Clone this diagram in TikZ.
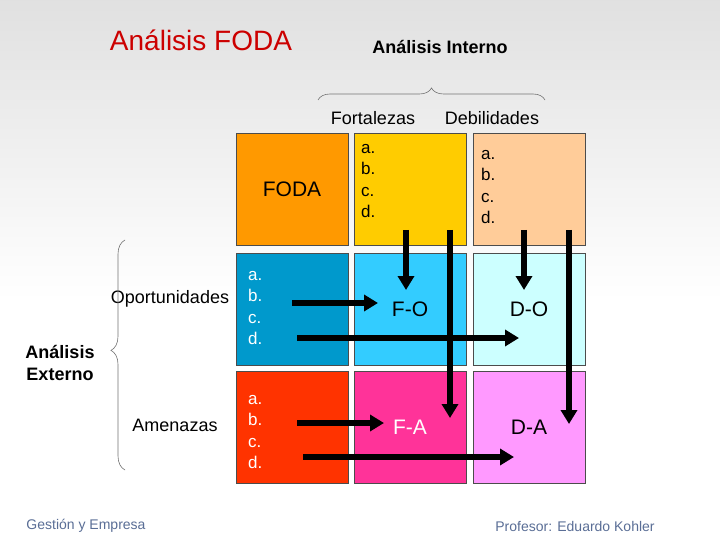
\documentclass[tikz,border=0pt]{standalone}
\usepackage{fontspec}
\setmainfont{Liberation Sans}
\usetikzlibrary{decorations.pathreplacing,arrows.meta}
\definecolor{cFODA}{HTML}{FF9900}
\definecolor{cF}{HTML}{FFCC00}
\definecolor{cD}{HTML}{FFCC99}
\definecolor{cO}{HTML}{0099CC}
\definecolor{cFO}{HTML}{33CCFF}
\definecolor{cDO}{HTML}{CCFFFF}
\definecolor{cA}{HTML}{FF3300}
\definecolor{cFA}{HTML}{FF3399}
\definecolor{cDA}{HTML}{FF99FF}
\definecolor{foot}{HTML}{5A6E96}
\begin{document}
\begin{tikzpicture}[x=1pt,y=-1pt,
 cell/.style={draw=black!70,line width=0.6pt,minimum width=112pt,minimum height=112pt,inner sep=0pt},
 lst/.style={align=left,font=\fontsize{17}{21.5}\selectfont,inner sep=0pt,anchor=north west},
 big/.style={font=\fontsize{21}{24}\selectfont},
 lab/.style={font=\fontsize{18}{20}\selectfont},
 arr/.style={line width=5.5pt,-{Triangle[length=14pt,width=16pt]},black},
 br/.style={draw=black!55,line width=0.6pt,decorate}]
\shade[top color=black!12,bottom color=white] (0,0) rectangle (720,300);
\fill[white] (0,300) rectangle (720,540);
\useasboundingbox (0,0) rectangle (720,540);
% cells
\node[cell,fill=cFODA] (foda) at (292,189) {};
\node[cell,fill=cF] (fort) at (410,189) {};
\node[cell,fill=cD] (deb) at (529,189) {};
\node[cell,fill=cO] (op) at (292,309) {};
\node[cell,fill=cFO] (fo) at (410,309) {};
\node[cell,fill=cDO] (do) at (529,309) {};
\node[cell,fill=cA] (am) at (292,427) {};
\node[cell,fill=cFA] (fa) at (410,427) {};
\node[cell,fill=cDA] (da) at (529,427) {};
\node[big] at (foda) {FODA};
\node[big] at (fo) {F-O};
\node[big] at (do) {D-O};
\node[big,white] at (fa) {F-A};
\node[big] at (da) {D-A};
\node[lst] (lf) at (361,144) {a.\\b.\\c.\\d.};
\node[lst] (ld) at (481,150) {a.\\b.\\c.\\d.};
\node[lst,white] (lo) at (248,271) {a.\\b.\\c.\\d.};
\node[lst,white] (la) at (248,395) {a.\\b.\\c.\\d.};
% arrows
\coordinate (d1a) at (406,230); \coordinate (d1b) at (406,290);
\coordinate (d2a) at (450,230); \coordinate (d2b) at (450,418);
\coordinate (d3a) at (524,230); \coordinate (d3b) at (524,290);
\coordinate (d4a) at (569,230); \coordinate (d4b) at (569,424);
\coordinate (r1a) at (292,303); \coordinate (r1b) at (378,303);
\coordinate (r2a) at (297,338); \coordinate (r2b) at (519,338);
\coordinate (r3a) at (297,423); \coordinate (r3b) at (384,423);
\coordinate (r4a) at (303,457); \coordinate (r4b) at (514,457);
\foreach \p in {d1,d2,d3,d4,r1,r2,r3,r4} \draw[arr] (\p a) -- (\p b);
% labels
\node[font=\fontsize{28}{30}\selectfont,text=red!80!black] (title) at (201,40) {Análisis FODA};
\node[font=\fontsize{18}{20}\bfseries\selectfont] (int) at (440,47) {Análisis Interno};
\node[lab] (fl) at (373,118) {Fortalezas};
\node[lab] (dl) at (492,118) {Debilidades};
\node[lab] (ol) at (170,299) {Oportunidades};
\node[lab] (al) at (175,425) {Amenazas};
\node[font=\fontsize{18}{22}\bfseries\selectfont,align=center] (ext) at (60,363) {Análisis\\Externo};
\draw[br,decoration={brace,amplitude=12pt,aspect=0.5}] (318,100) -- (545,100);
\draw[br,decoration={brace,amplitude=14pt,aspect=0.52}] (125,470) -- (125,240);
\node[font=\fontsize{14}{16}\selectfont,text=foot] (g) at (86,526) {Gestión y Empresa};
\node[font=\fontsize{14}{16}\selectfont,text=foot] (p) at (575,526) {Profesor: Eduardo Kohler};
\end{tikzpicture}
\end{document}
